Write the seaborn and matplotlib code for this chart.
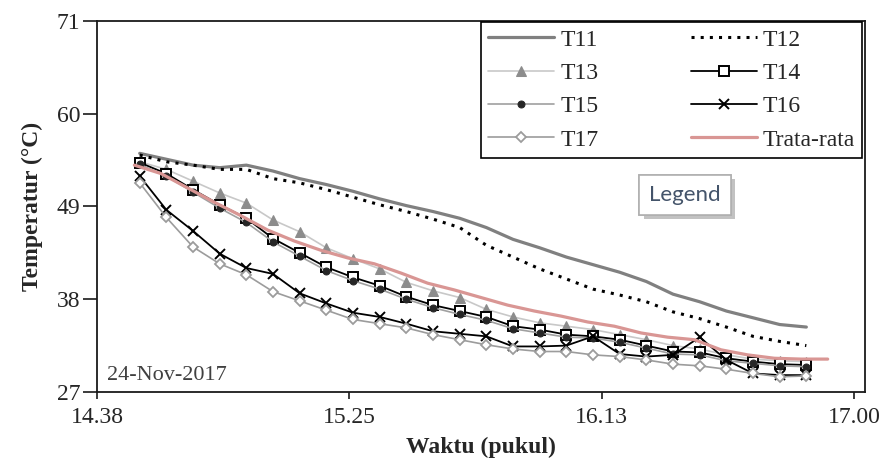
import matplotlib
matplotlib.use("Agg")
import numpy as np
import seaborn as sns
import matplotlib.pyplot as plt
from matplotlib import patheffects

# waktu pengukuran (jam:menit)
waktu = ["14:46", "14:51", "14:56", "15:01", "15:06", "15:11", "15:16", "15:21",
         "15:26", "15:31", "15:36", "15:41", "15:46", "15:51", "15:56", "16:01",
         "16:06", "16:11", "16:16", "16:21", "16:26", "16:31", "16:36", "16:41",
         "16:46", "16:51"]
waktu_rata = ["14:45", "14:50", "14:55", "15:00", "15:05", "15:10", "15:15", "15:20",
              "15:25", "15:30", "15:35", "15:40", "15:45", "15:50", "15:55", "16:00",
              "16:05", "16:10", "16:15", "16:20", "16:25", "16:30", "16:35", "16:40",
              "16:45", "16:50", "16:55"]

t11 = [55.3, 54.6, 53.9, 53.6, 53.9, 53.2, 52.3, 51.6, 50.8, 49.9, 49.1, 48.4, 47.6,
       46.5, 45.1, 44.1, 43.0, 42.1, 41.2, 40.1, 38.6, 37.7, 36.6, 35.8, 35.0, 34.7]
t12 = [55.1, 54.3, 53.9, 53.4, 53.4, 52.3, 51.8, 51.0, 50.1, 49.2, 48.4, 47.5, 46.5,
       44.4, 43.0, 41.6, 40.4, 39.2, 38.5, 37.7, 36.5, 35.7, 34.7, 33.6, 33.0, 32.5]
t13 = [54.3, 53.4, 52.0, 50.6, 49.4, 47.4, 46.0, 44.1, 42.8, 41.6, 40.0, 39.0, 38.2,
       36.8, 35.9, 35.2, 34.8, 34.4, 33.8, 33.2, 32.5, 32.1, 31.4, 30.9, 30.7, 30.6]
t14 = [54.2, 52.9, 51.0, 49.2, 47.6, 45.2, 43.5, 41.8, 40.6, 39.6, 38.3, 37.3, 36.6,
       35.9, 34.8, 34.4, 33.8, 33.6, 33.2, 32.5, 31.8, 31.7, 31.0, 30.6, 30.3, 30.2]
t15 = [54.0, 52.6, 50.7, 48.8, 47.1, 44.8, 43.1, 41.4, 40.2, 39.2, 38.0, 37.0, 36.2,
       35.5, 34.5, 34.0, 33.5, 33.4, 32.9, 32.2, 31.5, 31.4, 30.7, 30.4, 30.1, 30.0]
t16 = [52.6, 48.6, 46.1, 43.4, 41.7, 41.0, 38.7, 37.5, 36.4, 35.9, 35.1, 34.2, 33.9,
       33.6, 32.4, 32.4, 32.5, 33.6, 31.5, 31.2, 31.4, 33.5, 30.8, 29.2, 29.0, 29.0]
t17 = [51.8, 47.7, 44.2, 42.2, 40.9, 38.9, 37.8, 36.7, 35.6, 35.1, 34.6, 33.8, 33.2,
       32.6, 32.1, 31.8, 31.8, 31.4, 31.2, 30.8, 30.3, 30.1, 29.7, 29.2, 28.8, 28.9]
rata = [53.9, 52.9, 51.2, 49.5, 47.9, 46.2, 44.9, 43.8, 42.9, 42.2, 41.1, 39.9, 39.1,
        38.2, 37.3, 36.6, 36.0, 35.3, 34.8, 34.0, 33.5, 33.2, 32.0, 31.4, 31.0, 30.9, 30.9]

xtick_labels = ["14.38", "15.25", "16.13", "17.00"]
ytick_values = [27, 38, 49, 60, 71]


def ke_menit(jam):
    h, m = jam.split(":")
    return int(h) * 60 + int(m)


x = np.array([ke_menit(w) for w in waktu])
x_rata = np.array([ke_menit(w) for w in waktu_rata])

sns.set_style("ticks")
plt.rcParams['font.family'] = ['Liberation Serif', 'DejaVu Serif']

fig = plt.figure(figsize=(8.87, 4.70), dpi=100)
ax = fig.add_axes([0.1094, 0.166, 0.8658, 0.7894])

sns.lineplot(x=x, y=t11, ax=ax, color='#808080', lw=2.3, label='T11')
sns.lineplot(x=x, y=t12, ax=ax, color='black', lw=2.2, linestyle=(0, (1, 2)), label='T12')
sns.lineplot(x=x, y=t13, ax=ax, color='#c8c8c8', lw=1.2, marker='^', markersize=7,
             markerfacecolor='#8c8c8c', markeredgecolor='#8c8c8c', label='T13')
sns.lineplot(x=x, y=t14, ax=ax, color='black', lw=1.3, marker='s', markersize=6.5,
             markerfacecolor='white', markeredgecolor='black', markeredgewidth=1.4, label='T14')
sns.lineplot(x=x, y=t15, ax=ax, color='#a0a0a0', lw=1.2, marker='o', markersize=5,
             markerfacecolor='#262626', markeredgecolor='#262626', label='T15')
sns.lineplot(x=x, y=t16, ax=ax, color='black', lw=1.3, marker='x', markersize=7,
             markeredgecolor='black', markeredgewidth=1.4, label='T16')
sns.lineplot(x=x, y=t17, ax=ax, color='#9c9c9c', lw=1.2, marker='D', markersize=5,
             markerfacecolor='white', markeredgecolor='#9c9c9c', markeredgewidth=1.3, label='T17')
sns.lineplot(x=x_rata, y=rata, ax=ax, color='#d99694', lw=2.3, label='Trata-rata')

ax.set_xlim(878, 1022)
ax.set_ylim(27, 71)
ax.set_xticks(np.linspace(878, 1020, 4))
ax.set_xticklabels(xtick_labels)
ax.set_yticks(ytick_values)

for s in ax.spines.values():
    s.set_visible(True)
    s.set_color('#1a1a1a')
    s.set_linewidth(1.3)
ax.tick_params(axis='y', direction='out', length=10, width=1.2, labelsize=17, pad=2,
               colors='#1a1a1a', labelcolor='#262626')
ax.tick_params(axis='x', direction='out', length=5, width=1.2, labelsize=17, pad=6,
               colors='#1a1a1a', labelcolor='#262626')

ax.set_xlabel('Waktu (pukul)', fontsize=17, fontweight='bold', labelpad=6)
ax.set_ylabel('Temperatur (°C)', fontsize=17, fontweight='bold', labelpad=10)

handles, labels = ax.get_legend_handles_labels()
urut = [0, 2, 4, 6, 1, 3, 5, 7]
leg = ax.legend([handles[i] for i in urut], [labels[i] for i in urut], ncol=2,
                loc='upper right', bbox_to_anchor=(0.996, 0.997), borderaxespad=0,
                fontsize=17, frameon=True, fancybox=False, framealpha=1,
                edgecolor='black', handlelength=2.8, handletextpad=0.25,
                columnspacing=3.9, labelspacing=0.5, borderpad=0.3)
leg.get_frame().set_linewidth(1.2)

ax.text(0.013, 0.045, '24-Nov-2017', transform=ax.transAxes, fontsize=16,
        color='#404040', ha='left', va='center')

kotak = ax.text(0.766, 0.531, 'Legend', transform=ax.transAxes, fontsize=16,
                family=['Lato', 'DejaVu Sans'], color='#44546a', ha='center', va='center',
                bbox=dict(boxstyle='square,pad=0.45', fc='white', ec='#b0b0b0', lw=1.2))
kotak.get_bbox_patch().set_path_effects(
    [patheffects.withSimplePatchShadow(offset=(3, -3), shadow_rgbFace='#9a9a9a', alpha=0.6),
     patheffects.Normal()])

fig.savefig('out.png', dpi=100)
